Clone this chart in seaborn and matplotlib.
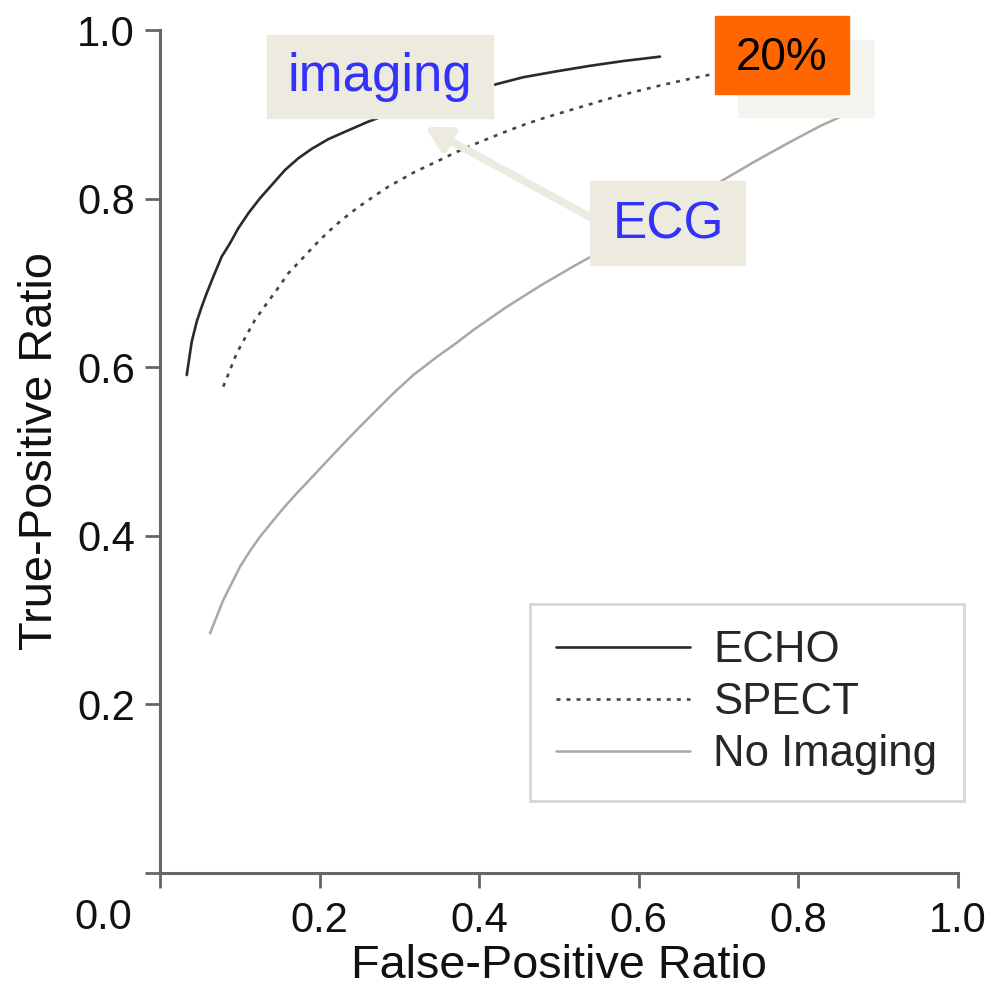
import numpy as np
import pandas as pd
import matplotlib.pyplot as plt
import matplotlib.patches as mpatches
import seaborn as sns

# curvas ROC (pontos escondidos atras das caixas foram estimados)
echo_x = [0.0335, 0.0397, 0.0460, 0.0523, 0.0585, 0.0668, 0.0773, 0.0877, 0.0981, 0.1107,
          0.1253, 0.1400, 0.1566, 0.1733, 0.1901, 0.2109, 0.2360, 0.2610, 0.300, 0.360,
          0.4177, 0.4553, 0.4971, 0.5388, 0.5806, 0.6266]
echo_y = [0.5907, 0.6300, 0.6540, 0.6718, 0.6877, 0.7074, 0.7311, 0.7470, 0.7648, 0.7826,
          0.8004, 0.8161, 0.8339, 0.8478, 0.8590, 0.8705, 0.8810, 0.8913, 0.905, 0.921,
          0.9348, 0.9440, 0.9510, 0.9575, 0.9632, 0.9684]

spect_x = [0.0793, 0.0877, 0.0961, 0.1074, 0.1190, 0.1324, 0.1462, 0.1608, 0.1767, 0.1942,
           0.2109, 0.2277, 0.2465, 0.2673, 0.2861, 0.318, 0.3509, 0.3697, 0.3926, 0.4156,
           0.4386, 0.4595, 0.4825, 0.5054, 0.5284, 0.5514, 0.5723, 0.5952, 0.6182, 0.6433,
           0.6662, 0.6892, 0.740]
spect_y = [0.5769, 0.5967, 0.6165, 0.6362, 0.6560, 0.6738, 0.6916, 0.7114, 0.7272, 0.7450,
           0.7607, 0.7746, 0.7885, 0.8023, 0.8141, 0.831, 0.8458, 0.8545, 0.8640, 0.8728,
           0.8814, 0.8888, 0.8960, 0.9025, 0.9090, 0.9155, 0.9212, 0.9268, 0.9322, 0.9378,
           0.9425, 0.9470, 0.955]

noimg_x = [0.0627, 0.0710, 0.0793, 0.0898, 0.1003, 0.1128, 0.1253, 0.1400, 0.1545, 0.1713,
           0.1880, 0.2068, 0.2256, 0.2465, 0.2673, 0.2924, 0.3174, 0.3467, 0.3718, 0.3926,
           0.4345, 0.4762, 0.5179, 0.5388, 0.620, 0.7059, 0.7435, 0.7853, 0.8271, 0.8688,
           0.8897]
noimg_y = [0.2843, 0.3041, 0.3238, 0.3436, 0.3634, 0.3820, 0.3989, 0.4160, 0.4326, 0.4504,
           0.4670, 0.4860, 0.5050, 0.5255, 0.5453, 0.5690, 0.5907, 0.6120, 0.6290, 0.6441,
           0.6715, 0.6965, 0.7195, 0.7305, 0.777, 0.8221, 0.8430, 0.8650, 0.8860, 0.9040,
           0.9120]

ticks = [0.0, 0.2, 0.4, 0.6, 0.8, 1.0]
xlabels = ["", "0.2", "0.4", "0.6", "0.8", "1.0"]
ylabels = ["", "0.2", "0.4", "0.6", "0.8", "1.0"]

sns.set_style("ticks")
plt.rcParams['font.family'] = ['Liberation Sans', 'DejaVu Sans']

fig = plt.figure(figsize=(9.92, 9.91), dpi=100)
ax = fig.add_axes([160/992, 118/991, 798/992, 843/991])

sns.lineplot(x=echo_x, y=echo_y, sort=False, estimator=None, ax=ax,
             color='#2a2a2a', lw=1.9, label='ECHO')
sns.lineplot(x=spect_x, y=spect_y, sort=False, estimator=None, ax=ax,
             color='#444444', lw=1.9, linestyle=(0, (1.5, 2.3)), label='SPECT')
sns.lineplot(x=noimg_x, y=noimg_y, sort=False, estimator=None, ax=ax,
             color='#a8a8a8', lw=1.8, label='No Imaging')

ax.set_xlim(0, 1)
ax.set_ylim(0, 1)
ax.set_xticks(ticks)
ax.set_xticklabels(xlabels)
ax.set_yticks(ticks)
ax.set_yticklabels(ylabels)
sns.despine(ax=ax)
for s in ['left', 'bottom']:
    ax.spines[s].set_color('#666666')
    ax.spines[s].set_linewidth(2.2)
ax.tick_params(axis='both', length=11, width=2, color='#666666', labelsize=30, labelcolor='#111111')
ax.tick_params(axis='x', pad=9)
ax.tick_params(axis='y', pad=7)
ax.text(-0.0714, -0.0296, "0.0", transform=ax.transAxes, ha='center', va='top',
        fontsize=30, color='#111111')

ax.set_xlabel("False-Positive Ratio", fontsize=33.7, labelpad=2, color='#111111')
ax.set_ylabel("True-Positive Ratio", fontsize=33.8, labelpad=11, color='#111111')

leg = ax.legend(loc='upper left', bbox_to_anchor=(0.4637, 0.319), fontsize=31.5, frameon=True,
                fancybox=False, handlelength=3.06, handletextpad=0.53, labelspacing=0.25,
                borderpad=0.6, borderaxespad=0)
leg.get_frame().set_edgecolor('#cccccc')
leg.get_frame().set_linewidth(2)
leg.get_frame().set_facecolor('white')

# seta e caixas de anotacao
ax.annotate("", xy=(0.3321, 0.8849), xytext=(0.5388, 0.7782),
            arrowprops=dict(arrowstyle='-|>,head_length=0.7,head_width=0.38', color='#EDEAE0',
                            lw=5.5, mutation_scale=20, shrinkA=0, shrinkB=0), zorder=3)

beige = '#EDEAE0'
ax.add_patch(mpatches.Rectangle((0.134, 0.8956), 0.2833, 0.0985, color=beige, zorder=4, clip_on=False))
ax.text(0.2757, 0.9448, "imaging", ha='center', va='center', fontsize=38, color='#3232FA', zorder=5)

ax.add_patch(mpatches.Rectangle((0.5388, 0.7212), 0.1943, 0.0997, color=beige, zorder=4, clip_on=False))
ax.text(0.6366, 0.7687, "ECG", ha='center', va='center', fontsize=37, color='#3232FA', zorder=5)

ax.add_patch(mpatches.Rectangle((0.7243, 0.8968), 0.1692, 0.0913, color='#F5F3EE', zorder=4, clip_on=False))
ax.add_patch(mpatches.Rectangle((0.6955, 0.9241), 0.1679, 0.0925, color='#FF6600', zorder=5, clip_on=False))
ax.text(0.7794, 0.9668, "20%", ha='center', va='center', fontsize=33, color='black', zorder=6, clip_on=False)

fig.savefig("out.png", dpi=100)
